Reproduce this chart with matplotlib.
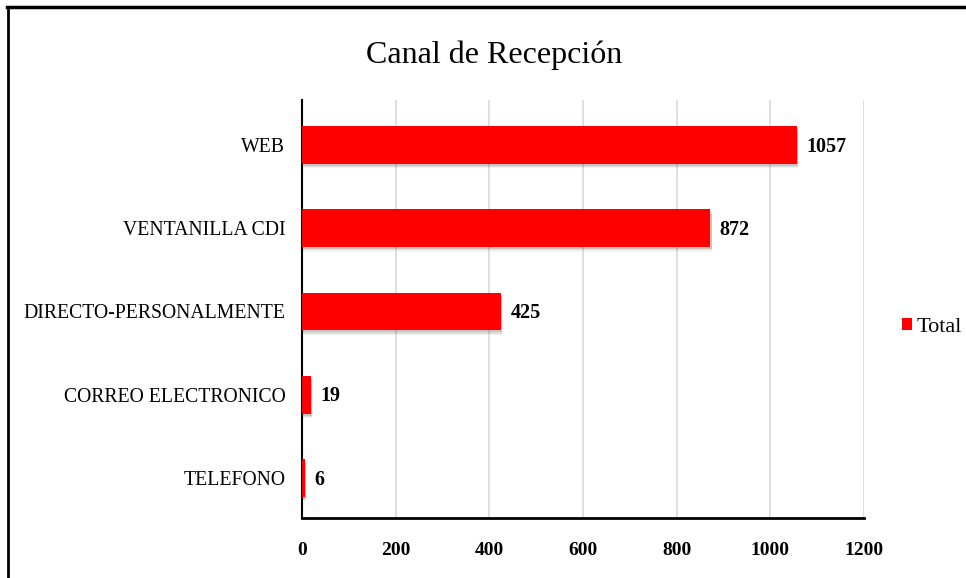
import matplotlib.pyplot as plt
from matplotlib.lines import Line2D

canales = ['WEB', 'VENTANILLA CDI', 'DIRECTO-PERSONALMENTE',
           'CORREO ELECTRONICO', 'TELEFONO']
totales = [1057, 872, 425, 19, 6]
ticks_x = [0, 200, 400, 600, 800, 1000, 1200]

plt.rcParams['font.family'] = ['Liberation Serif', 'DejaVu Serif']

fig = plt.figure(figsize=(9.66, 5.78), dpi=100)
ax = fig.add_axes([0.3126, 0.1038, 0.5818, 0.7232])

pos = list(range(len(canales)))[::-1]

# sombra suave debajo de las barras
for k, a in [(0.055, 0.08), (0.04, 0.12), (0.025, 0.18)]:
    ax.barh([p - k for p in pos], totales, height=0.45, color='#555555',
            alpha=a, left=3, zorder=2, linewidth=0)
ax.barh(pos, totales, height=0.45, color='#ff0000', zorder=3,
        label='Total')

for p, v in zip(pos, totales):
    ax.text(v + 20, p - 0.02, str(v), va='center', ha='left', fontsize=14.5,
            fontweight='bold', zorder=4)

ax.set_xlim(0, 1200)
ax.set_ylim(-0.48, 4.54)
ax.set_xticks(ticks_x)
ax.set_xticklabels([str(t) for t in ticks_x], fontsize=14,
                   fontweight='bold')
ax.set_yticks(pos)
ax.set_yticklabels(canales, fontsize=14.2)
ax.tick_params(axis='x', length=0, pad=17)
ax.tick_params(axis='y', length=0, pad=12)
ax.xaxis.grid(True, color='#d9d9d9', linewidth=1.2, zorder=0)
ax.set_axisbelow(True)

for s in ['top', 'right']:
    ax.spines[s].set_visible(False)
ax.spines['left'].set_linewidth(1.5)
ax.spines['bottom'].set_linewidth(2)

fig.text(0.512, 0.905, 'Canal de Recepción', ha='center', va='center',
         fontsize=23)

fig.legend(loc='center left', bbox_to_anchor=(0.934, 0.433), frameon=False,
           fontsize=16, handlelength=0.45, handleheight=0.45,
           handletextpad=0.2, borderpad=0, borderaxespad=0)

# marco del gráfico
fig.add_artist(Line2D([0.007, 1.0], [0.988, 0.988], color='black',
                      linewidth=2.5, transform=fig.transFigure))
fig.add_artist(Line2D([0.0085, 0.0085], [0.0, 0.988], color='black',
                      linewidth=2, transform=fig.transFigure))

fig.savefig('out.png', dpi=100)
